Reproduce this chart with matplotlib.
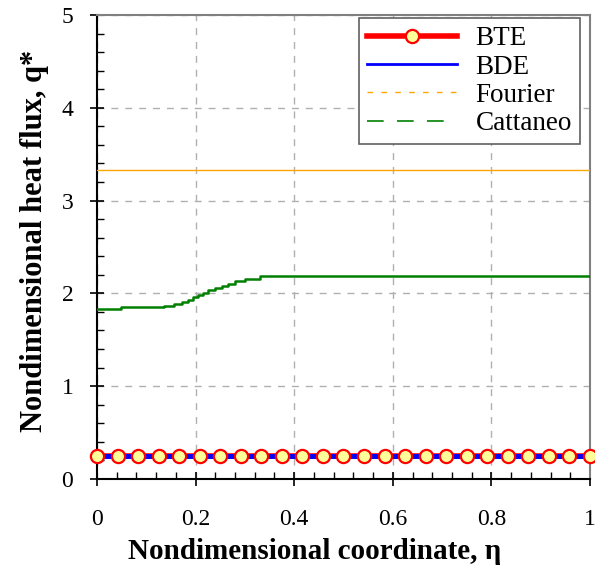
import numpy as np
import matplotlib
matplotlib.use("Agg")
from matplotlib import pyplot as plt
from matplotlib.lines import Line2D
from matplotlib.ticker import MultipleLocator

plt.rcParams["font.family"] = ["Liberation Serif", "DejaVu Serif"]

# BTE / BDE solution (uniform flux)
eta_bte = np.linspace(0, 1, 25)
q_bte = np.full(25, 0.245)
eta_bde = [0.0, 1.0]
q_bde = [0.245, 0.245]

# Fourier
eta_fourier = [0.0, 1.0]
q_fourier = [3.33, 3.33]

# Cattaneo (cell values, step profile)
eta_catt = [0.0, 0.049, 0.136, 0.156, 0.172, 0.185, 0.195, 0.205, 0.215,
            0.225, 0.239, 0.254, 0.266, 0.280, 0.300, 0.331, 1.0]
q_catt = [1.829, 1.848, 1.864, 1.886, 1.911, 1.932, 1.958, 1.983, 2.008,
          2.033, 2.058, 2.083, 2.105, 2.130, 2.155, 2.184, 2.184]

fig = plt.figure(figsize=(5.95, 5.68), dpi=100)
ax = fig.add_axes([0.163, 0.157, 0.8286, 0.8166])

ax.plot(eta_fourier, q_fourier, color="#ffa500", lw=1.0, zorder=3)
ax.plot(eta_catt, q_catt, color="#008000", lw=1.8, drawstyle="steps-post", zorder=3)
ax.plot(eta_bte, q_bte, color="red", lw=4, zorder=3)
ax.plot(eta_bde, q_bde, color="blue", lw=3.5, zorder=4)
ax.plot(eta_bte, q_bte, ls="none", marker="o", ms=9.5, mfc="#ffff99",
        mec="red", mew=1.6, zorder=5, clip_on=False)

ax.set_xlim(0, 1)
ax.set_ylim(0, 5)
ax.xaxis.set_major_locator(MultipleLocator(0.2))
ax.xaxis.set_minor_locator(MultipleLocator(0.04))
ax.yaxis.set_major_locator(MultipleLocator(1))
ax.yaxis.set_minor_locator(MultipleLocator(0.2))
ax.set_xticks([0, 0.2, 0.4, 0.6, 0.8, 1.0], ["0", "0.2", "0.4", "0.6", "0.8", "1"])
ax.tick_params(which="major", direction="inout", length=10, width=1.2, labelsize=17)
ax.tick_params(axis="x", which="major", pad=17)
ax.tick_params(axis="y", which="major", pad=12)
ax.tick_params(which="minor", direction="in", length=5, width=1)
ax.tick_params(top=False, right=False, which="both")
ax.grid(True, which="major", ls=(0, (5, 5)), color="#b0b0b0", lw=1)

for s in ("left", "bottom"):
    ax.spines[s].set_linewidth(1.5)
    ax.spines[s].set_color("black")
for s in ("top", "right"):
    ax.spines[s].set_linewidth(1.5)
    ax.spines[s].set_color("#808080")

ax.set_xlabel("Nondimensional coordinate, η", fontsize=21, fontweight="bold")
ax.set_ylabel("Nondimensional heat flux, q*", fontsize=22, fontweight="bold")
ax.xaxis.set_label_coords(0.442, -0.128)
ax.yaxis.set_label_coords(-0.097, 0.513)

handles = [
    Line2D([], [], color="red", lw=4, marker="o", ms=9.5, mfc="#ffff99", mec="red", mew=1.6),
    Line2D([], [], color="blue", lw=2),
    Line2D([], [], color="#ffa500", lw=1, ls=(0, (4, 6))),
    Line2D([], [], color="#008000", lw=1.2, ls=(0, (10, 8))),
]
leg = ax.legend(handles, ["BTE", "BDE", "Fourier", "Cattaneo"], loc="upper right",
                bbox_to_anchor=(0.98, 0.993), borderaxespad=0, fontsize=19.5,
                fancybox=False, framealpha=1, edgecolor="#606060", handlelength=3.3,
                labelspacing=0.12, borderpad=0.3, handletextpad=0.7, numpoints=1)
leg.get_frame().set_linewidth(1.2)

fig.savefig("out.png", dpi=100)
